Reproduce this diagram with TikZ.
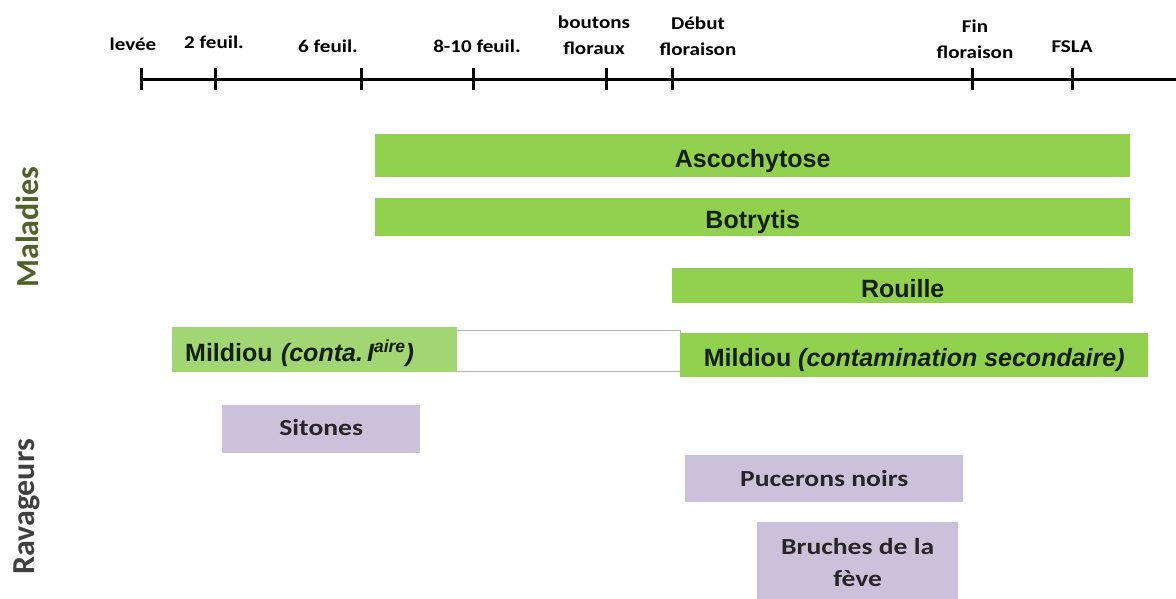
\documentclass[tikz,border=0pt]{standalone}
\usepackage{fontspec}
\setmainfont{Carlito}
\newfontfamily\arialfont{Liberation Sans}
\newfontfamily\topfont[FakeStretch=1.17]{Carlito}
\newfontfamily\boxfont[FakeStretch=1.2]{Carlito}
\definecolor{bargreen}{HTML}{92D050}
\definecolor{lightgreen}{HTML}{A2D574}
\definecolor{lavender}{HTML}{CCC1DB}
\definecolor{olive}{HTML}{4F6228}
\definecolor{darkgray}{HTML}{3F3F3F}
\definecolor{ink}{HTML}{14200A}
\tikzset{
  toplabel/.style={align=center, inner sep=0pt, font=\topfont\fontsize{18}{26}\selectfont\bfseries},
  tick/.style={line width=3pt},
  bar/.style={fill=bargreen, draw=none, anchor=north west, inner sep=0pt, text=ink,
    text height=23pt, text depth=0pt,
    font=\arialfont\fontsize{25}{28}\selectfont\bfseries},
  pest/.style={fill=lavender, draw=none, anchor=north west, inner sep=0pt, text=black!85,
    align=center, font=\boxfont\fontsize{23}{32}\selectfont\bfseries},
  side/.style={rotate=90, inner sep=0pt, font=\fontsize{32}{34}\selectfont\bfseries}
}
\begin{document}
\begin{tikzpicture}[x=1pt,y=-1pt]
\useasboundingbox (0,0) rectangle (1176,598);
% timeline
\coordinate (tl0) at (141,79);
\coordinate (tlend) at (1176,79);
\draw[line width=3pt] (tl0) -- (tlend);
\foreach \x in {141,215,361,473,606,672,972,1072}{
  \draw[tick] (\x,68) -- (\x,90);
}
\node[toplabel] (levee) at (133,44) {levée};
\node[toplabel] (f2) at (214,42) {2 feuil.};
\node[toplabel] (f6) at (328,46) {6 feuil.};
\node[toplabel] (f810) at (477,46) {8-10 feuil.};
\node[toplabel] (bout) at (594,35) {boutons\\floraux};
\node[toplabel] (debut) at (698,36) {Début\\floraison};
\node[toplabel] (fin) at (975,39) {Fin\\floraison};
\node[toplabel] (fsla) at (1072,47) {FSLA};
% side labels
\node[side, text=olive] (mal) at (27,227) {Maladies};
\node[side, text=darkgray] (rav) at (27,507) {Ravageurs};
% diseases
\node[bar, minimum width=755pt, minimum height=43pt] (asco) at (375,134) {Ascochytose};
\node[bar, minimum width=755pt, minimum height=38pt] (botr) at (375,198) {Botrytis};
\node[bar, minimum width=461pt, minimum height=35pt] (rouille) at (672,268) {Rouille};
\node[draw=black!30, line width=0.6pt, anchor=north west, minimum width=225pt, minimum height=41pt, inner sep=0pt] (gap) at (455,330) {};
\node[bar, fill=lightgreen, minimum width=285pt, minimum height=45pt, text width=277pt, align=left, inner xsep=0pt] (mil1) at (172,327) {\hspace*{9pt}Mildiou \textit{(conta.\,I\textsuperscript{aire})}};
\node[bar, minimum width=468pt, minimum height=44pt] (mil2) at (680,333) {Mildiou \textit{(contamination secondaire)}};
% pests
\node[pest, minimum width=198pt, minimum height=48pt] (sit) at (222,405) {\raisebox{3pt}{Sitones}};
\node[pest, minimum width=278pt, minimum height=47pt] (puc) at (685,455) {Pucerons noirs};
\node[pest, minimum width=201pt, minimum height=80pt] (bru) at (757,522) {Bruches de la\\fève};
\end{tikzpicture}
\end{document}
